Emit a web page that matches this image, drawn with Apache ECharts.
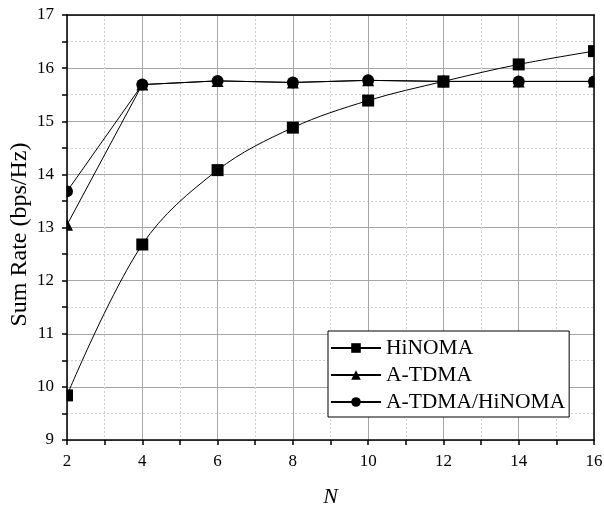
<!DOCTYPE html>
<html>
<head>
<meta charset="utf-8">
<script src="https://cdn.jsdelivr.net/npm/echarts@6/dist/echarts.min.js"></script>
<style>
  html, body { margin: 0; padding: 0; background: #fff; }
  #chart { width: 604px; height: 508px; }
</style>
</head>
<body>
<div id="chart"></div>
<script>
// Number of elements N
const nValues = [2, 4, 6, 8, 10, 12, 14, 16];
// Sum rate (bps/Hz) per scheme
const hinoma = [9.84, 12.68, 14.08, 14.88, 15.39, 15.75, 16.07, 16.32];
const atdma = [13.05, 15.69, 15.76, 15.73, 15.77, 15.75, 15.75, 15.75];
const atdmaHinoma = [13.68, 15.69, 15.76, 15.73, 15.77, 15.75, 15.75, 15.75];
const seriesNames = ['HiNOMA', 'A-TDMA', 'A-TDMA/HiNOMA'];

const FONT = 'Liberation Serif';
const G = { left: 67, right: 10, top: 15, bottom: 68 };
const W = 604, H = 508;

function pairs(ys) { return nValues.map((x, i) => [x, ys[i]]); }

const chart = echarts.init(document.getElementById('chart'), null, { renderer: 'canvas' });

const xBase = { type: 'value', min: 2, max: 16, interval: 2 };
const yBase = { type: 'value', min: 9, max: 17, interval: 1 };
const hidden = { axisLabel: { show: false }, axisTick: { show: false }, axisLine: { show: false }, splitLine: { show: false } };
const frameLine = { show: true, lineStyle: { color: '#000', width: 1.5 } };

chart.setOption({
  animation: false,
  backgroundColor: '#fff',
  textStyle: { fontFamily: FONT },
  grid: {
    left: G.left, right: G.right, top: G.top, bottom: G.bottom,
    containLabel: false, outerBoundsMode: 'none'
  },
  // white masks trimming markers that sit on the plot's left and right borders
  graphic: {
    elements: [
      { type: 'rect', z: 100, silent: true, shape: { x: 0, y: 0, width: G.left - 0.5, height: H - G.bottom }, style: { fill: '#fff' } },
      { type: 'rect', z: 100, silent: true, shape: { x: W - G.right + 0.5, y: 0, width: G.right, height: H - G.bottom }, style: { fill: '#fff' } }
    ]
  },
  xAxis: [
    Object.assign({}, xBase, hidden, {
      position: 'bottom', z: 0,
      splitLine: { show: true, lineStyle: { color: '#a6a6a6', width: 1 } },
      minorTick: { show: false, splitNumber: 2 },
      minorSplitLine: { show: true, lineStyle: { color: '#cfcfcf', width: 1, type: [2, 2] } }
    }),
    Object.assign({}, xBase, {
      position: 'bottom', z: 110,
      name: 'N', nameLocation: 'middle', nameGap: 46, nameMoveOverlap: false,
      nameTextStyle: { fontFamily: FONT, fontSize: 22, fontStyle: 'italic', color: '#000' },
      axisLine: frameLine,
      axisTick: { show: true, inside: false, length: 5, lineStyle: { color: '#000', width: 1.5 } },
      minorTick: { show: true, splitNumber: 2, length: 5, lineStyle: { color: '#000', width: 1.5 } },
      axisLabel: { show: true, fontFamily: FONT, fontSize: 17, color: '#000', margin: 13 },
      splitLine: { show: false }
    }),
    Object.assign({}, xBase, hidden, { position: 'top', z: 110, axisLine: frameLine })
  ],
  yAxis: [
    Object.assign({}, yBase, hidden, {
      position: 'left', z: 0,
      splitLine: { show: true, lineStyle: { color: '#a6a6a6', width: 1 } },
      minorTick: { show: false, splitNumber: 2 },
      minorSplitLine: { show: true, lineStyle: { color: '#cfcfcf', width: 1, type: [2, 2] } }
    }),
    Object.assign({}, yBase, {
      position: 'left', z: 110,
      name: 'Sum Rate (bps/Hz)', nameLocation: 'middle', nameGap: 35, nameMoveOverlap: false,
      nameTextStyle: { fontFamily: FONT, fontSize: 24, color: '#000', padding: [0, 14, 0, 0] },
      axisLine: frameLine,
      axisTick: { show: true, inside: false, length: 5, lineStyle: { color: '#000', width: 1.5 } },
      minorTick: { show: true, splitNumber: 2, length: 5, lineStyle: { color: '#000', width: 1.5 } },
      axisLabel: { show: true, fontFamily: FONT, fontSize: 17, color: '#000', margin: 13 },
      splitLine: { show: false }
    }),
    Object.assign({}, yBase, hidden, { position: 'right', z: 110, axisLine: frameLine })
  ],
  legend: {
    z: 120,
    left: 328, top: 331,
    orient: 'vertical',
    data: seriesNames,
    backgroundColor: '#fff',
    borderColor: '#000', borderWidth: 1,
    padding: [6, 4, 4, 2],
    itemWidth: 50, itemHeight: 12, itemGap: 5,
    textStyle: { fontFamily: FONT, fontSize: 21.5, color: '#000' }
  },
  series: [
    {
      name: seriesNames[0], type: 'line', xAxisIndex: 0, yAxisIndex: 0, z: 2,
      data: pairs(hinoma), smooth: 0.35,
      symbol: 'rect', symbolSize: 12,
      itemStyle: { color: '#000' }, lineStyle: { color: '#000', width: 1 }
    },
    {
      name: seriesNames[1], type: 'line', xAxisIndex: 0, yAxisIndex: 0, z: 2,
      data: pairs(atdma),
      symbol: 'triangle', symbolSize: 12,
      itemStyle: { color: '#000' }, lineStyle: { color: '#000', width: 1 }
    },
    {
      name: seriesNames[2], type: 'line', xAxisIndex: 0, yAxisIndex: 0, z: 2,
      data: pairs(atdmaHinoma),
      symbol: 'circle', symbolSize: 12,
      itemStyle: { color: '#000' }, lineStyle: { color: '#000', width: 1 }
    }
  ]
});
</script>
</body>
</html>
